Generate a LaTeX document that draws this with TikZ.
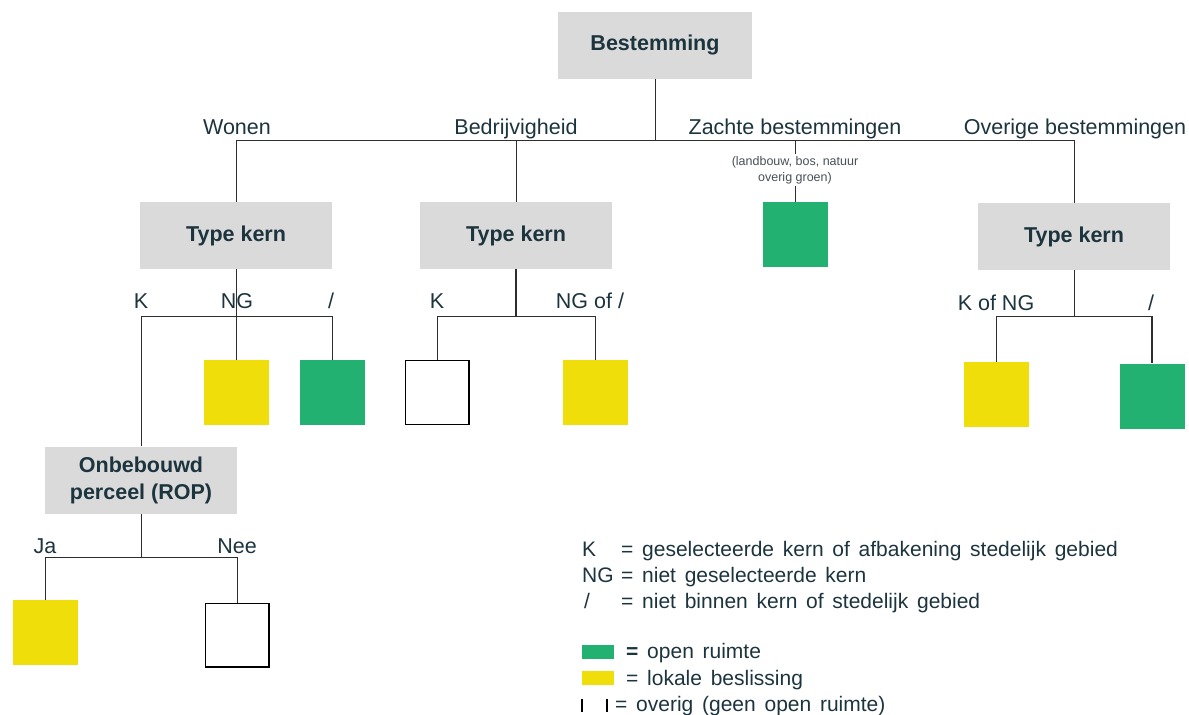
\documentclass[tikz,border=0pt]{standalone}
\usepackage{fontspec}
\setmainfont{Liberation Sans}
\newfontfamily\legfont[WordSpace=1.5]{Liberation Sans}
\definecolor{txt}{RGB}{28,52,62}
\definecolor{smalltxt}{RGB}{70,80,85}
\definecolor{boxgray}{RGB}{218,218,218}
\definecolor{opengreen}{RGB}{35,177,114}
\definecolor{lokyellow}{RGB}{240,222,10}
\definecolor{linec}{RGB}{45,45,45}
\begin{document}
\begin{tikzpicture}[x=1pt,y=-1pt,
  decision/.style={fill=boxgray, minimum width=192pt, minimum height=67pt, inner sep=0pt, align=center, font=\fontsize{21.5}{27}\selectfont\bfseries, text=txt},
  sq/.style={minimum width=65pt, minimum height=65pt, inner sep=0pt},
  opensq/.style={sq, fill=opengreen},
  loksq/.style={sq, fill=lokyellow},
  othersq/.style={sq, draw=black, line width=1.3pt, fill=white, minimum width=63.7pt, minimum height=63.7pt},
  lbl/.style={font=\fontsize{21.5}{26}\selectfont, text=txt, anchor=base, inner sep=0pt},
  conn/.style={draw=linec, line width=1pt},
  leg/.style={font=\legfont\fontsize{21}{25}\selectfont, text=txt, anchor=base west, inner sep=0pt}
]
\useasboundingbox (0,0) rectangle (1189,715);

% decision boxes
\node[decision, minimum width=194pt] (best) at (655,45) {Bestemming};
\node[decision] (tw) at (236,235.5) {Type kern};
\node[decision] (tb) at (516,235.5) {Type kern};
\node[decision] (to) at (1074,236.5) {Type kern};
\node[decision] (rop) at (141,480) {Onbebouwd\\perceel (ROP)};

% outcome squares
\node[opensq] (gz) at (795,234.5) {};
\node[loksq] (wng) at (236,392.5) {};
\node[opensq] (wsl) at (332,392.5) {};
\node[othersq] (bk) at (437,392.5) {};
\node[loksq] (bng) at (595,392.5) {};
\node[loksq] (ok) at (996,394.5) {};
\node[opensq] (osl) at (1152,396) {};
\node[loksq] (ja) at (45,632.5) {};
\node[othersq] (nee) at (237,635) {};

% small note
\node[font=\fontsize{12.5}{16}\selectfont, text=smalltxt, align=center, inner sep=2pt] (zt) at (795,170) {(landbouw, bos, natuur\\overig groen)};

% junctions
\coordinate (h0) at (655,140);
\coordinate (hw) at (236,316);
\coordinate (hb) at (516,316);
\coordinate (ho) at (1074,316);
\coordinate (hr) at (141,557);
\coordinate (hos) at (1152,316);

% connectors
\draw[conn] (best.south) -- (h0);
\draw[conn] (tw.north) |- (h0);
\draw[conn] (tb.north) |- (h0);
\draw[conn] (zt.north) |- (h0);
\draw[conn] (gz.north) -- (zt.south);
\draw[conn] (to.north) |- (h0);

\draw[conn] (tw.south) -- (wng.north);
\draw[conn] (rop.north) |- (hw);
\draw[conn] (wsl.north) |- (hw);

\draw[conn, line width=1.6pt] (tb.south) -- (hb);
\draw[conn] (bk.north) |- (hb);
\draw[conn] (bng.north) |- (hb);

\draw[conn] (to.south) -- (ho);
\draw[conn] (ok.north) |- (ho);
\draw[conn] (ho) -- (hos);
\draw[conn, line width=1.6pt] (osl.north) -- (hos);

\draw[conn] (rop.south) -- (hr);
\draw[conn] (ja.north) |- (hr);
\draw[conn] (nee.north) |- (hr);

% branch labels
\node[lbl] (lw) at (237,134) {Wonen};
\node[lbl] (lb) at (516,134) {Bedrijvigheid};
\node[lbl] (lz) at (795,134) {Zachte bestemmingen};
\node[lbl] (lo) at (1075,134) {Overige bestemmingen};

\node[lbl] (lwk) at (141,308) {K};
\node[lbl] (lwng) at (237,308) {NG};
\node[lbl] (lwsl) at (331,308) {/};
\node[lbl] (lbk) at (437,308) {K};
\node[lbl] (lbng) at (590,308) {NG of /};
\node[lbl] (lok) at (996,310) {K of NG};
\node[lbl] (losl) at (1151,310) {/};
\node[lbl] (lja) at (45,553) {Ja};
\node[lbl] (lnee) at (237,553) {Nee};

% legend
\node[leg] (k1) at (582,556) {K};
\node[leg] (k1t) at (621,556) {= geselecteerde kern of afbakening stedelijk gebied};
\node[leg] (k2) at (582,582) {NG};
\node[leg] (k2t) at (621,582) {= niet geselecteerde kern};
\node[leg] (k3) at (584,608) {/};
\node[leg] (k3t) at (621,608) {= niet binnen kern of stedelijk gebied};
\fill[opengreen] (582,645) rectangle (614,659);
\node[leg] (k4t) at (626,658) {\textbf{=} open ruimte};
\fill[lokyellow] (582,671) rectangle (614,685);
\node[leg] (k5t) at (626,685) {= lokale beslissing};
\draw[black, line width=1.3pt] (582,699) -- (582,712) (607,699) -- (607,712);
\node[leg] (k6t) at (615,711) {= overig (geen open ruimte)};
\end{tikzpicture}
\end{document}
